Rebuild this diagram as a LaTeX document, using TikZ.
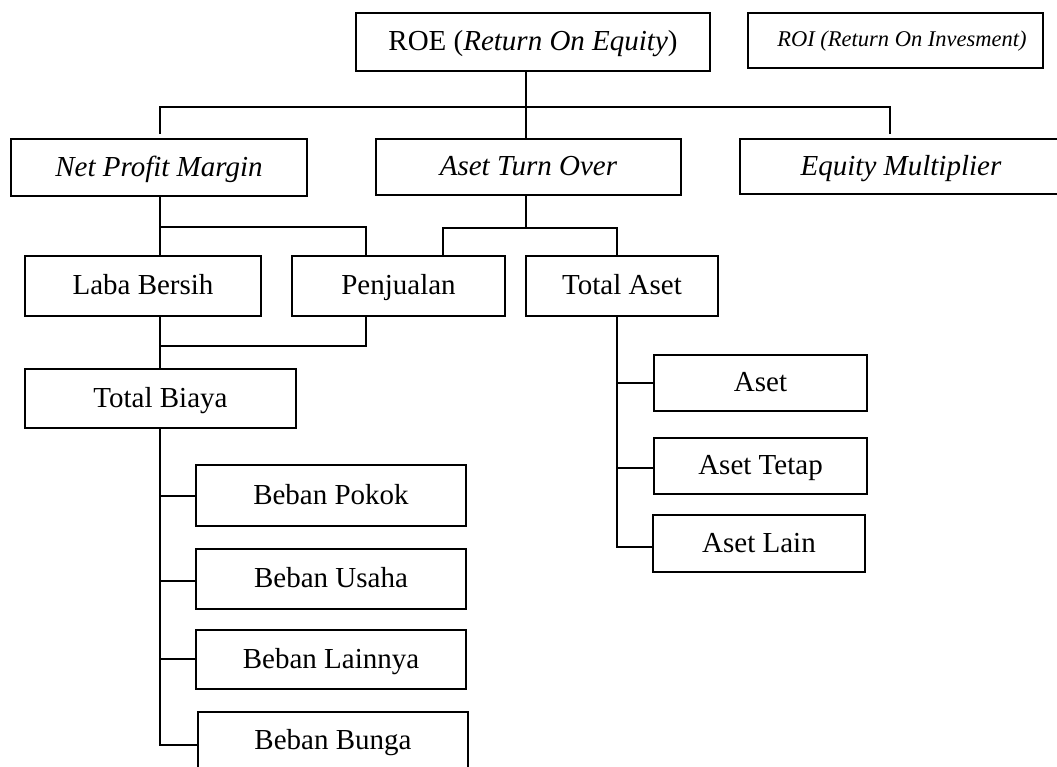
\documentclass[tikz,border=0pt]{standalone}
\usepackage{fontspec}
\setmainfont{Liberation Serif}
\begin{document}
\begin{tikzpicture}[x=1pt,y=-1pt,
  box/.style={draw,line width=1.6pt,inner sep=0pt,anchor=center,text height=19pt,text depth=1.5pt,font=\fontsize{29}{33}\selectfont},
  smallbox/.style={box,text height=15pt,text depth=3pt,font=\fontsize{22.5}{26}\selectfont\itshape},
  conn/.style={line width=1.6pt}]
\useasboundingbox (0,0) rectangle (1057,767);
\clip (0,0) rectangle (1057,767);
% top level
\node[box,minimum width=354pt,minimum height=58pt] (roe) at (533,42) {ROE (\textit{Return On Equity})\hspace{21pt}};
\node[smallbox,minimum width=295pt,minimum height=55pt] (roi) at (895.5,40.5) {\hspace{13pt}ROI (Return On Invesment)};
% level 1
\node[box,minimum width=296pt,minimum height=57pt] (npm) at (159,167.5) {\textit{Net Profit Margin}};
\node[box,minimum width=305pt,minimum height=56pt] (ato) at (528.5,167) {\textit{Aset Turn Over}};
\node[box,minimum width=322pt,minimum height=55pt] (em) at (901,166.5) {\textit{Equity Multiplier}};
% level 2
\node[box,minimum width=236pt,minimum height=60pt] (lb) at (143,286) {Laba Bersih};
\node[box,minimum width=213pt,minimum height=60pt] (pj) at (398.5,286) {Penjualan};
\node[box,minimum width=192pt,minimum height=60pt] (ta) at (622,286) {Total Aset};
\node[box,minimum width=271pt,minimum height=59pt] (tb) at (160.5,398.5) {Total Biaya};
% costs
\node[box,minimum width=270pt,minimum height=61pt] (bp) at (331,495.5) {Beban Pokok};
\node[box,minimum width=270pt,minimum height=60pt] (bu) at (331,579) {Beban Usaha};
\node[box,minimum width=270pt,minimum height=59pt] (bl) at (331,659.5) {Beban Lainnya};
\node[box,minimum width=270pt,minimum height=58pt] (bb) at (333,741) {Beban Bunga};
% assets
\node[box,minimum width=213pt,minimum height=56pt] (aset) at (760.5,383) {Aset};
\node[box,minimum width=213pt,minimum height=56pt] (asettetap) at (760.5,466) {Aset Tetap};
\node[box,minimum width=212pt,minimum height=57pt] (asetlain) at (759,543.5) {Aset Lain};
% junction coordinates
\coordinate (c1) at (526,107);
\coordinate (t1) at (160,134);
\coordinate (t2) at (890,134);
\coordinate (c2) at (160,227);
\coordinate (c2r) at (366,227);
\coordinate (c3) at (526,228);
\coordinate (c3l) at (443,228);
\coordinate (c3r) at (617,228);
\coordinate (c4) at (160,346);
\coordinate (c4r) at (366,346);
\coordinate (c5) at (160,745);
\coordinate (c6) at (617,547);
\coordinate (b1) at (160,496);
\coordinate (b2) at (160,581);
\coordinate (b3) at (160,659);
\coordinate (a1) at (617,383);
\coordinate (a2) at (617,468);
% connectors
\draw[conn] (roe.south -| c1) -- (ato.north -| c1);
\draw[conn] (t1) -- (t1 |- c1) -- (t2 |- c1) -- (t2);
\draw[conn] (npm.south -| c2) -- (lb.north -| c2);
\draw[conn] (c2) -- (c2r) -- (pj.north -| c2r);
\draw[conn] (ato.south -| c3) -- (c3);
\draw[conn] (pj.north -| c3l) -- (c3l) -- (c3r) -- (ta.north -| c3r);
\draw[conn] (lb.south -| c4) -- (tb.north -| c4);
\draw[conn] (c4) -- (c4r) -- (pj.south -| c4r);
\draw[conn] (tb.south -| c5) -- (c5) -- (bb.west |- c5);
\draw[conn] (b1) -- (bp.west |- b1);
\draw[conn] (b2) -- (bu.west |- b2);
\draw[conn] (b3) -- (bl.west |- b3);
\draw[conn] (ta.south -| c6) -- (c6) -- (asetlain.west |- c6);
\draw[conn] (a1) -- (aset.west |- a1);
\draw[conn] (a2) -- (asettetap.west |- a2);
\end{tikzpicture}
\end{document}
